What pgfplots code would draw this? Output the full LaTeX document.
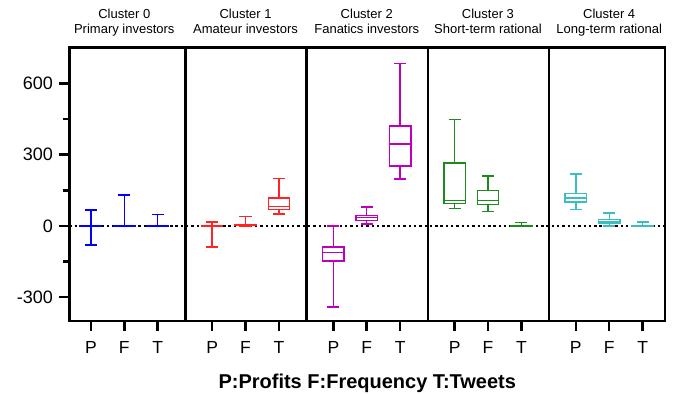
\documentclass[border=0pt]{standalone}
\usepackage{pgfplots}
\pgfplotsset{compat=1.18}
\usepgfplotslibrary{statistics}
\usepackage{fontspec}
\setmainfont{Liberation Sans}
\definecolor{cA}{RGB}{0,0,255}
\definecolor{cB}{RGB}{255,35,35}
\definecolor{cC}{RGB}{190,0,190}
\definecolor{cD}{RGB}{30,138,30}
\definecolor{cE}{RGB}{60,190,190}
\begin{document}
\begin{tikzpicture}
\path[use as bounding box] (0,0) rectangle (673pt,394pt);
\begin{axis}[
  at={(69.5pt,73pt)}, anchor=south west,
  scale only axis, width=595.5pt, height=273.3pt,
  xmin=-0.64, xmax=17.19, ymin=-400, ymax=750,
  clip=false,
  axis line style={line width=2.5pt},
  xtick={0,1,2,3.63,4.63,5.63,7.26,8.26,9.26,10.89,11.89,12.89,14.52,15.52,16.52},
  xticklabels={P,F,T,P,F,T,P,F,T,P,F,T,P,F,T},
  ytick={-300,0,300,600},
  yticklabels={-300,0,300,600},
  minor ytick={-150,150,450},
  xtick pos=bottom, ytick pos=left,
  tick align=outside,
  major tick length=10pt, minor tick length=6pt,
  every tick/.style={line width=2.5pt, black},
  every minor tick/.style={line width=2.5pt, black},
  xticklabel style={font=\fontsize{17.5}{20}\selectfont, anchor=base, inner sep=0pt, yshift=-22.3pt},
  yticklabel style={font=\fontsize{18}{21}\selectfont, anchor=east, inner sep=0pt, xshift=-6.5pt},
  xlabel={P:Profits F:Frequency T:Tweets},
  xlabel style={font=\fontsize{20}{24}\selectfont\bfseries, at={(axis description cs:0.5,0)}, anchor=base, inner sep=0pt, yshift=-67.6pt},
  boxplot/draw direction=y,
  boxplot/box extend=0.64,
  boxplot/whisker extend=0.36,
  boxplot/every box/.style={draw, line width=1.4pt},
  boxplot/every whisker/.style={line width=1.4pt},
  boxplot/every median/.style={line width=1.4pt},
]
% zero line
\addplot[black, line width=2.4pt, dash pattern=on 2.4pt off 2.9pt, line cap=butt] coordinates {(-0.64,0) (17.19,0)};
% dividers
\addplot[black, line width=2.5pt] coordinates {(2.83,-400) (2.83,750)};
\addplot[black, line width=2.5pt] coordinates {(6.46,-400) (6.46,750)};
\addplot[black, line width=2.5pt] coordinates {(10.09,-400) (10.09,750)};
\addplot[black, line width=2.5pt] coordinates {(13.72,-400) (13.72,750)};
% Cluster 0
\addplot[cA, line width=1.4pt, boxplot prepared={draw position=0, lower whisker=-80, lower quartile=-2, median=0, upper quartile=2, upper whisker=67}] coordinates {};
\addplot[cA, line width=1.4pt, boxplot prepared={draw position=1, lower whisker=0, lower quartile=0.1, median=1, upper quartile=2, upper whisker=130}] coordinates {};
\addplot[cA, line width=1.4pt, boxplot prepared={draw position=2, lower whisker=0, lower quartile=0.1, median=1, upper quartile=2, upper whisker=48}] coordinates {};
% Cluster 1
\addplot[cB, line width=1.4pt, boxplot prepared={draw position=3.63, lower whisker=-89, lower quartile=-3, median=-1, upper quartile=1, upper whisker=17}] coordinates {};
\addplot[cB, line width=1.4pt, boxplot prepared={draw position=4.63, lower whisker=0, lower quartile=1, median=3, upper quartile=6, upper whisker=39}] coordinates {};
\addplot[cB, line width=1.4pt, boxplot prepared={draw position=5.63, lower whisker=50, lower quartile=69, median=81, upper quartile=117, upper whisker=199}] coordinates {};
% Cluster 2
\addplot[cC, line width=1.4pt, boxplot prepared={draw position=7.26, lower whisker=-341, lower quartile=-148, median=-112, upper quartile=-88, upper whisker=0}] coordinates {};
\addplot[cC, line width=1.4pt, boxplot prepared={draw position=8.26, lower whisker=8, lower quartile=22, median=35, upper quartile=44, upper whisker=80}] coordinates {};
\addplot[cC, line width=1.4pt, boxplot prepared={draw position=9.26, lower whisker=197, lower quartile=253, median=344, upper quartile=421, upper whisker=683}] coordinates {};
% Cluster 3
\addplot[cD, line width=1.4pt, boxplot prepared={draw position=10.89, lower whisker=74, lower quartile=94, median=106, upper quartile=264, upper whisker=447}] coordinates {};
\addplot[cD, line width=1.4pt, boxplot prepared={draw position=11.89, lower whisker=62, lower quartile=91, median=106, upper quartile=148, upper whisker=210}] coordinates {};
\addplot[cD, line width=1.4pt, boxplot prepared={draw position=12.89, lower whisker=0, lower quartile=0.1, median=1, upper quartile=3, upper whisker=15}] coordinates {};
% Cluster 4
\addplot[cE, line width=1.4pt, boxplot prepared={draw position=14.52, lower whisker=70, lower quartile=101, median=117, upper quartile=136, upper whisker=218}] coordinates {};
\addplot[cE, line width=1.4pt, boxplot prepared={draw position=15.52, lower whisker=0, lower quartile=10, median=16, upper quartile=28, upper whisker=54}] coordinates {};
\addplot[cE, line width=1.4pt, boxplot prepared={draw position=16.52, lower whisker=0, lower quartile=0.1, median=1, upper quartile=3, upper whisker=17}] coordinates {};
% titles
\node[anchor=base, inner sep=0pt, font=\fontsize{13}{15}\selectfont, yshift=28.7pt] at (axis cs:1,750) {Cluster 0};
\node[anchor=base, inner sep=0pt, font=\fontsize{13}{15}\selectfont, yshift=14.4pt] at (axis cs:1,750) {Primary investors};
\node[anchor=base, inner sep=0pt, font=\fontsize{13}{15}\selectfont, yshift=28.7pt] at (axis cs:4.63,750) {Cluster 1};
\node[anchor=base, inner sep=0pt, font=\fontsize{13}{15}\selectfont, yshift=14.4pt] at (axis cs:4.63,750) {Amateur investors};
\node[anchor=base, inner sep=0pt, font=\fontsize{13}{15}\selectfont, yshift=28.7pt] at (axis cs:8.26,750) {Cluster 2};
\node[anchor=base, inner sep=0pt, font=\fontsize{13}{15}\selectfont, yshift=14.4pt] at (axis cs:8.26,750) {Fanatics investors};
\node[anchor=base, inner sep=0pt, font=\fontsize{13}{15}\selectfont, yshift=28.7pt] at (axis cs:11.89,750) {Cluster 3};
\node[anchor=base, inner sep=0pt, font=\fontsize{13}{15}\selectfont, yshift=14.4pt] at (axis cs:11.89,750) {Short-term rational};
\node[anchor=base, inner sep=0pt, font=\fontsize{13}{15}\selectfont, yshift=28.7pt] at (axis cs:15.52,750) {Cluster 4};
\node[anchor=base, inner sep=0pt, font=\fontsize{13}{15}\selectfont, yshift=14.4pt] at (axis cs:15.52,750) {Long-term rational};
\end{axis}
\end{tikzpicture}
\end{document}
